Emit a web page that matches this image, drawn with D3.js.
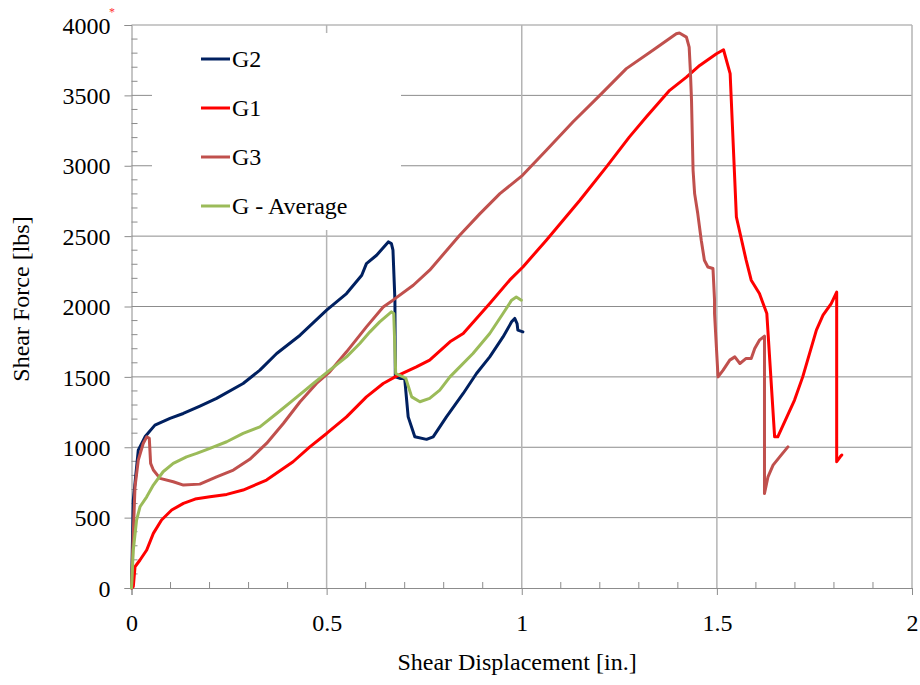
<!DOCTYPE html>
<html lang="en">
<head>
<meta charset="UTF-8">
<title>Shear Force vs Shear Displacement</title>
<style>body{margin:0;padding:0;background:#fff;} svg{display:block;font-family:"Liberation Serif","Times New Roman",serif;}</style>
<script src="https://d3js.org/d3.v7.min.js"></script>
</head>
<body>
<div id="chart"></div>
<script>
// displacement [in.] / shear force [lbs]
const g2X = [0, 0.0046, 0.0174, 0.0346, 0.060, 0.0986, 0.1327, 0.1754, 0.218, 0.286, 0.329, 0.372, 0.432, 0.500, 0.551, 0.590, 0.602, 0.628, 0.658, 0.666, 0.670, 0.675, 0.676, 0.688, 0.700, 0.709, 0.726, 0.756, 0.773, 0.807, 0.850, 0.884, 0.918, 0.952, 0.974, 0.982, 0.988, 0.990, 1.003];
const g2Y = [0, 625, 980, 1074, 1157, 1205, 1240, 1292, 1347, 1453, 1548, 1666, 1796, 1974, 2092, 2222, 2305, 2364, 2459, 2447, 2400, 2045, 1500, 1489, 1489, 1216, 1074, 1056, 1074, 1216, 1382, 1524, 1642, 1784, 1891, 1915, 1879, 1832, 1820];

const g1X = [0, 0.0046, 0.009, 0.0218, 0.039, 0.056, 0.077, 0.103, 0.133, 0.163, 0.201, 0.244, 0.286, 0.346, 0.414, 0.457, 0.500, 0.551, 0.602, 0.645, 0.679, 0.730, 0.764, 0.816, 0.850, 0.918, 0.969, 1.003, 1.063, 1.106, 1.149, 1.217, 1.276, 1.319, 1.379, 1.422, 1.456, 1.499, 1.517, 1.534, 1.550, 1.575, 1.588, 1.609, 1.628, 1.648, 1.656, 1.699, 1.720, 1.755, 1.772, 1.793, 1.807, 1.807, 1.816, 1.820];
const g1Y = [0, 9, 151, 199, 270, 388, 483, 554, 601, 632, 648, 665, 696, 767, 897, 1003, 1098, 1216, 1358, 1453, 1505, 1571, 1619, 1749, 1808, 2021, 2187, 2281, 2471, 2613, 2755, 2992, 3205, 3346, 3536, 3630, 3713, 3796, 3824, 3654, 2636, 2329, 2187, 2092, 1950, 1074, 1074, 1335, 1500, 1832, 1938, 2021, 2102, 897, 932, 945];

const g3X = [0, 0.0046, 0.009, 0.0174, 0.030, 0.039, 0.0456, 0.049, 0.056, 0.073, 0.107, 0.133, 0.175, 0.218, 0.261, 0.303, 0.346, 0.389, 0.432, 0.474, 0.508, 0.551, 0.602, 0.645, 0.670, 0.722, 0.764, 0.841, 0.893, 0.944, 1.002, 1.063, 1.131, 1.200, 1.268, 1.336, 1.396, 1.404, 1.422, 1.429, 1.432, 1.435, 1.439, 1.443, 1.451, 1.460, 1.468, 1.477, 1.490, 1.494, 1.494, 1.503, 1.516, 1.533, 1.546, 1.559, 1.575, 1.588, 1.597, 1.609, 1.622, 1.622, 1.622, 1.631, 1.644, 1.661, 1.682];
const g3Y = [0, 388, 719, 909, 1027, 1074, 1063, 885, 838, 779, 755, 731, 738, 790, 838, 914, 1027, 1169, 1323, 1453, 1536, 1678, 1855, 1997, 2045, 2151, 2258, 2506, 2660, 2802, 2932, 3110, 3311, 3500, 3690, 3820, 3938, 3943, 3914, 3843, 3678, 3465, 2968, 2802, 2660, 2471, 2329, 2281, 2270, 2045, 1950, 1500, 1548, 1619, 1642, 1595, 1631, 1631, 1702, 1761, 1789, 1571, 672, 790, 873, 932, 1003];

const gAvgX = [0, 0.0046, 0.013, 0.0218, 0.039, 0.056, 0.081, 0.107, 0.141, 0.167, 0.201, 0.244, 0.286, 0.329, 0.372, 0.414, 0.466, 0.508, 0.551, 0.585, 0.611, 0.636, 0.666, 0.672, 0.677, 0.696, 0.703, 0.718, 0.739, 0.764, 0.790, 0.816, 0.833, 0.875, 0.918, 0.952, 0.974, 0.986, 0.999];
const gAvgY = [0, 270, 483, 577, 648, 731, 826, 885, 932, 956, 992, 1039, 1098, 1145, 1240, 1335, 1453, 1548, 1642, 1737, 1820, 1891, 1962, 1950, 1524, 1500, 1489, 1358, 1323, 1347, 1406, 1500, 1548, 1666, 1808, 1950, 2045, 2068, 2045];

const seriesNames = ["G2", "G1", "G3", "G - Average"];
const seriesColors = ["#002060", "#ff0000", "#c0504d", "#9bbb59"];
const seriesX = [g2X, g1X, g3X, gAvgX];
const seriesY = [g2Y, g1Y, g3Y, gAvgY];

const xTicks = [0, 0.5, 1, 1.5, 2];
const yTicks = [0, 500, 1000, 1500, 2000, 2500, 3000, 3500, 4000];

const width = 920, height = 685;
const margin = {left: 131.5, right: 8, top: 25, bottom: 97};
const fontSize = "24px";

const svg = d3.select("#chart").append("svg")
  .attr("width", width)
  .attr("height", height);

const x = d3.scaleLinear().domain([0, 2]).range([margin.left, width - margin.right]);
const y = d3.scaleLinear().domain([0, 4000]).range([height - margin.bottom, margin.top]);

// gridlines
svg.append("g").selectAll("line")
  .data(yTicks.slice(1))
  .join("line")
  .attr("x1", x(0)).attr("x2", x(2))
  .attr("y1", d => y(d)).attr("y2", d => y(d))
  .attr("stroke", d => d === 4000 ? "#b8b8b8" : "#8c8c8c")
  .attr("stroke-width", d => d === 4000 ? 1.5 : 1);

svg.append("g").selectAll("line")
  .data(xTicks.slice(1))
  .join("line")
  .attr("x1", d => x(d)).attr("x2", d => x(d))
  .attr("y1", y(0)).attr("y2", y(4000))
  .attr("stroke", "#b4b4b4")
  .attr("stroke-width", 1.5);

// minor ticks (inside)
svg.append("g").selectAll("line")
  .data(d3.range(0, 4001, 100).filter(v => v % 500 !== 0))
  .join("line")
  .attr("x1", x(0)).attr("x2", x(0) + 6)
  .attr("y1", d => y(d)).attr("y2", d => y(d))
  .attr("stroke", "#8c8c8c");

svg.append("g").selectAll("line")
  .data(d3.range(1, 20).filter(i => i % 5 !== 0).map(i => i / 10))
  .join("line")
  .attr("x1", d => x(d)).attr("x2", d => x(d))
  .attr("y1", y(0) - 6).attr("y2", y(0))
  .attr("stroke", "#8c8c8c");

// axes
const yAxis = d3.axisLeft(y).tickValues(yTicks).tickSize(7).tickPadding(14).tickFormat(d3.format("d"));
const xAxis = d3.axisBottom(x).tickValues(xTicks).tickSize(7).tickPadding(19).tickFormat(d => d);

const gy = svg.append("g").attr("transform", `translate(${x(0)},0)`).call(yAxis);
const gx = svg.append("g").attr("transform", `translate(0,${y(0)})`).call(xAxis);
[gy, gx].forEach(g => {
  g.select(".domain").attr("stroke", "#8c8c8c");
  g.selectAll(".tick line").attr("stroke", "#8c8c8c");
  g.selectAll(".tick text")
    .attr("fill", "#000")
    .style("font-family", '"Liberation Serif","Times New Roman",serif')
    .style("font-size", fontSize);
});
gy.selectAll(".tick text").attr("dy", "0.34em");

// legend background covers gridlines
svg.append("rect")
  .attr("x", 152).attr("y", 33)
  .attr("width", 249).attr("height", 197)
  .attr("fill", "#fff");

// series
const line = d3.line().x(d => x(d[0])).y(d => y(d[1]));
seriesNames.forEach((name, i) => {
  const pts = seriesX[i].map((v, j) => [v, seriesY[i][j]]);
  svg.append("path")
    .datum(pts)
    .attr("d", line)
    .attr("fill", "none")
    .attr("stroke", seriesColors[i])
    .attr("stroke-width", 3)
    .attr("stroke-linejoin", "round")
    .attr("stroke-linecap", "round");
});

// legend
const legend = svg.append("g");
seriesNames.forEach((name, i) => {
  const ly = 59 + i * 49;
  legend.append("line")
    .attr("x1", 201).attr("x2", 230)
    .attr("y1", ly).attr("y2", ly)
    .attr("stroke", seriesColors[i])
    .attr("stroke-width", 3);
  legend.append("text")
    .attr("x", 232).attr("y", ly)
    .attr("dy", "0.35em")
    .style("font-size", fontSize)
    .text(name);
});

// axis titles
svg.append("text")
  .attr("x", 517).attr("y", 670)
  .attr("text-anchor", "middle")
  .style("font-size", fontSize)
  .text("Shear Displacement [in.]");

svg.append("text")
  .attr("transform", "translate(29,299) rotate(-90)")
  .attr("text-anchor", "middle")
  .style("font-size", fontSize)
  .text("Shear Force [lbs]");

svg.append("text")
  .attr("x", 112).attr("y", 16)
  .attr("text-anchor", "middle")
  .attr("fill", "#ff3030")
  .style("font-size", "12px")
  .text("*");
</script>
</body>
</html>
